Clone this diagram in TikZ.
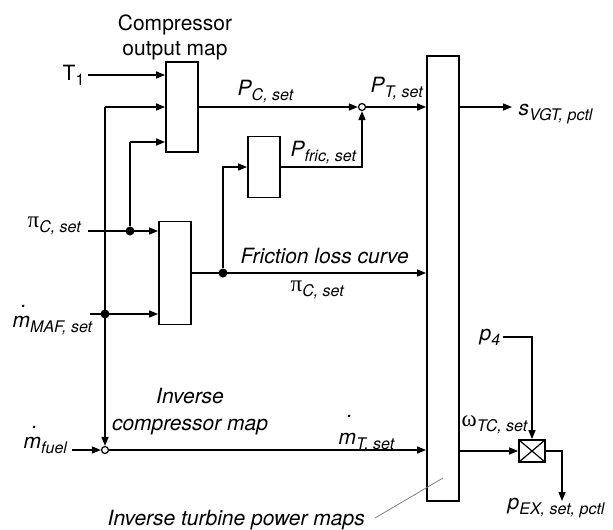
\documentclass[tikz,border=0pt]{standalone}
\usepackage{fontspec}
\setmainfont{TeX Gyre Heros}
\newfontfamily\grk{Liberation Serif}
\usetikzlibrary{arrows.meta,calc}
\newcommand{\sbs}[1]{\raisebox{-0.24em}{\fontsize{16}{18}\selectfont #1}}
\newcommand{\gk}[1]{{\fontsize{23}{25}\grk #1}}
\newcommand{\mdot}[1][0.95em]{\makebox[0pt][l]{\hspace{0.40em}\raisebox{#1}{.}}m}
\begin{document}
\begin{tikzpicture}[x=1pt,y=-1pt,
  font=\fontsize{21}{25}\selectfont,
  line width=1.4pt,
  arr/.style={-{Triangle[length=9pt,width=7pt]}},
  blk/.style={draw, line width=1.8pt, minimum width=32pt, inner sep=0},
  lbl/.style={inner sep=0, anchor=base west},
  itl/.style={font=\fontsize{21}{27}\selectfont\itshape},
  dotn/.style={circle, fill, inner sep=0, minimum size=9pt},
  sumn/.style={circle, draw, fill=white, inner sep=0, minimum size=7pt, line width=1.2pt}]
\useasboundingbox (0,0) rectangle (613,530);

% blocks
\node[blk, minimum height=90pt] (cbox) at (182,107) {};
\node[blk, minimum height=61pt] (fbox) at (264,167) {};
\node[blk, minimum height=103pt] (mbox) at (175,273) {};
\node[blk, minimum height=445pt] (tbox) at (443,278.5) {};
\node[draw, line width=1.8pt, minimum width=26pt, minimum height=22pt, inner sep=0,
  path picture={\draw[line width=1.2pt] (path picture bounding box.south west) -- (path picture bounding box.north east)
  (path picture bounding box.north west) -- (path picture bounding box.south east);}] (xbox) at (532,451) {};

% junctions
\node[sumn] (c1) at (362,107) {};
\node[sumn] (c2) at (105,450) {};
\node[dotn] (d1) at (130,231) {};
\node[dotn] (d2) at (105,314) {};
\node[dotn] (d3) at (223,273) {};

% labels
\node[inner sep=0, anchor=base, align=center] (cl) at (175,55) {Compressor\\output map};
\node[lbl] (t1) at (62,80) {T\sbs{1}};
\node[lbl] (pc) at (237,95) {\itshape P\sbs{C, set}};
\node[lbl] (pt) at (370,92) {\itshape P\sbs{T, set}};
\node[lbl] (pf) at (290,156) {\itshape P\sbs{fric, set}};
\node[lbl] (flc) at (240,263) {\itshape Friction loss curve};
\node[lbl] (pim) at (290,291) {\gk{π}\sbs{\itshape C, set}};
\node[lbl] (pil) at (27,227) {\gk{π}\sbs{\itshape C, set}};
\node[lbl] (mmaf) at (12,327) {\itshape\mdot\sbs{MAF, set}};
\node[lbl] (mfuel) at (23,448) {\itshape\mdot\sbs{fuel}};
\node[itl, inner sep=0, anchor=base, align=center] (icm) at (190,430) {Inverse\\compressor map};
\node[lbl] (mt) at (338,444) {\itshape\mdot[1.25em]\sbs{T, set}};
\node[lbl] (om) at (461,426) {\gk{ω}\sbs{\itshape TC, set}};
\node[lbl] (p4) at (479,340) {\itshape p\sbs{4}};
\node[lbl] (svgt) at (518,115) {\itshape s\sbs{VGT, pctl}};
\node[lbl] (pex) at (507,509) {\itshape p\sbs{EX, set, pctl}};
\node[lbl] (itpm) at (107,525) {\itshape Inverse turbine power maps};

% connectors
\coordinate (rT) at (88,75);
\draw[arr] (rT) -- (rT -| cbox.west);
\coordinate (j1) at (105,107);
\draw[arr] (j1) -- (j1 -| cbox.west);
\draw[arr] (j1) -- (c2.north);
\coordinate (j2) at (130,142);
\draw[arr] (j2) -- (j2 -| cbox.west);
\draw (j2) -- (d1);
\coordinate (rpi) at (88,231);
\draw[arr] (rpi) -- (rpi -| mbox.west);
\coordinate (rmaf) at (90,314);
\draw[arr] (rmaf) -- (rmaf -| mbox.west);
\draw[arr] (mbox.east |- d3) -- (d3 -| tbox.west);
\draw[arr] (d3) |- (fbox.west);
\draw[arr] (fbox.east) -| (c1.south);
\draw[arr] (cbox.east |- c1) -- (c1.west);
\draw[arr] (c1.east) -- (c1 -| tbox.west);
\coordinate (sv) at (512,107);
\draw[arr] (c1 -| tbox.east) -- (sv);
\coordinate (rf) at (72,450);
\draw[arr] (rf) -- (c2.west);
\draw[arr] (c2.east) -- (c2 -| tbox.west);
\draw[arr] (xbox -| tbox.east) -- (xbox.west);
\coordinate (p4s) at (503,337);
\draw[arr] (p4s) -| (xbox.north);
\coordinate (pexe) at (562,501);
\draw[arr] (xbox.east) -| (pexe);
\coordinate (lead) at (375,518);
\draw[gray, line width=0.8pt] (lead) -- (443,478);
\end{tikzpicture}
\end{document}
